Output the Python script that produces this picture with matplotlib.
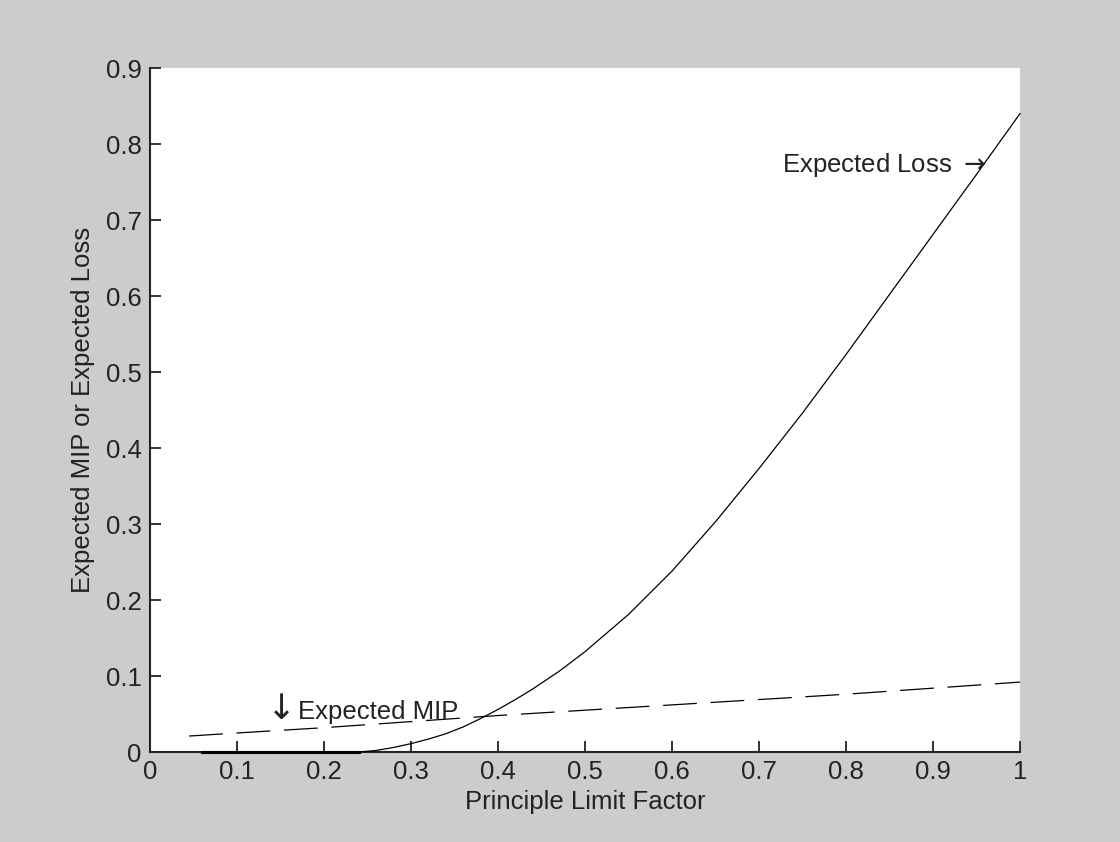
import matplotlib
matplotlib.use("Agg")
import matplotlib.pyplot as plt

# Data
loss_x = [0.06, 0.10, 0.15, 0.20, 0.24, 0.26, 0.28, 0.30, 0.32, 0.34, 0.36, 0.38,
          0.40, 0.42, 0.44, 0.47, 0.50, 0.55, 0.60, 0.65, 0.70, 0.75, 0.80, 0.85,
          0.90, 0.95, 1.00]
loss_y = [0.0, 0.0, 0.0, 0.0, 0.0, 0.002, 0.006, 0.011, 0.017, 0.024, 0.033, 0.044,
          0.056, 0.069, 0.083, 0.106, 0.132, 0.181, 0.238, 0.303, 0.373, 0.446, 0.523, 0.602,
          0.681, 0.760, 0.840]

mip_x = [0.045, 0.10, 0.20, 0.30, 0.40, 0.50, 0.60, 0.70, 0.80, 0.90, 1.00]
mip_y = [0.021, 0.025, 0.032, 0.040, 0.048, 0.055, 0.062, 0.069, 0.076, 0.084, 0.092]

x_ticks = [0, 0.1, 0.2, 0.3, 0.4, 0.5, 0.6, 0.7, 0.8, 0.9, 1]
x_ticklabels = ["0", "0.1", "0.2", "0.3", "0.4", "0.5", "0.6", "0.7", "0.8", "0.9", "1"]
y_ticks = [0, 0.1, 0.2, 0.3, 0.4, 0.5, 0.6, 0.7, 0.8, 0.9]
y_ticklabels = ["0", "0.1", "0.2", "0.3", "0.4", "0.5", "0.6", "0.7", "0.8", "0.9"]

plt.rcParams['font.family'] = ['Liberation Sans', 'DejaVu Sans']
plt.rcParams['mathtext.fontset'] = 'dejavusans'
FS = 18.5

fig = plt.figure(figsize=(11.2, 8.42), dpi=100, facecolor='#cccccc')
ax = fig.add_axes([150/1120, 90/842, 870/1120, 684/842])
ax.set_facecolor('white')

ax.plot(loss_x, loss_y, color='black', lw=0.9, clip_on=False, zorder=3)
ax.plot(loss_x[:5], loss_y[:5], color='black', lw=2.2, clip_on=False, zorder=3)
ax.plot(mip_x, mip_y, color='black', lw=0.9, linestyle=(0, (27, 11)), zorder=3)

ax.set_xlim(0, 1)
ax.set_ylim(0, 0.9)
ax.set_xticks(x_ticks)
ax.set_xticklabels(x_ticklabels)
ax.set_yticks(y_ticks)
ax.set_yticklabels(y_ticklabels)

for s in ['top', 'right']:
    ax.spines[s].set_visible(False)
for s in ['left', 'bottom']:
    ax.spines[s].set_linewidth(1.5)
    ax.spines[s].set_color('#222222')

ax.tick_params(direction='in', length=8, width=1.3, colors='#222222',
               labelsize=FS, pad=6)

ax.set_xlabel('Principle Limit Factor', fontsize=FS, color='#222222', labelpad=4)
ax.set_ylabel('Expected MIP or Expected Loss', fontsize=FS, color='#222222', labelpad=8)

ax.text(0.96, 0.773, r'Expected Loss $\rightarrow$', fontsize=FS, ha='right', va='center',
        color='#222222')
ax.text(0.151, 0.057, '\u2193', fontsize=25, ha='center', va='center',
        color='#222222', family=['DejaVu Sans'])
ax.text(0.170, 0.053, 'Expected MIP', fontsize=FS, ha='left', va='center',
        color='#222222')

fig.savefig('out.png', dpi=100, facecolor=fig.get_facecolor())
